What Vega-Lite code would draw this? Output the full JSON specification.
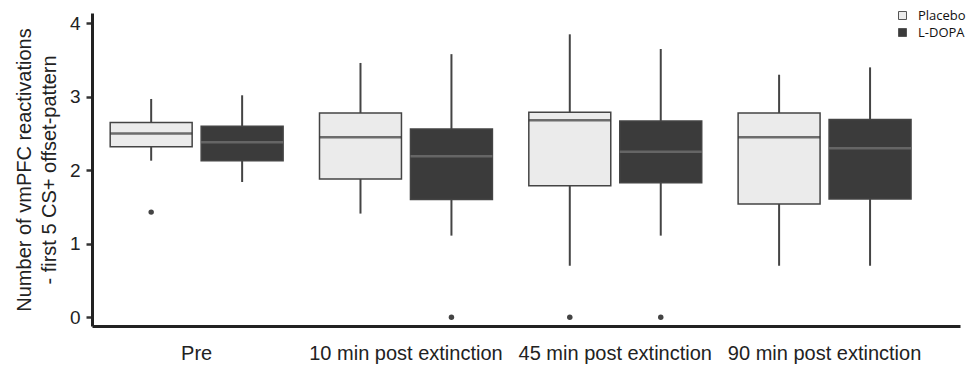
{
  "$schema": "https://vega.github.io/schema/vega-lite/v6.json",
  "width": 868,
  "height": 313,
  "autosize": {"type": "none"},
  "padding": {"left": 92, "top": 13, "right": 9, "bottom": 45},
  "background": "white",
  "config": {"view": {"stroke": null}, "font": "Liberation Sans"},
  "datasets": {
    "stats": [
      {"phase": "Pre", "cond": "Placebo", "lo": 2.13, "q1": 2.32, "med": 2.5, "q3": 2.65, "hi": 2.97},
      {"phase": "Pre", "cond": "L-DOPA", "lo": 1.84, "q1": 2.13, "med": 2.38, "q3": 2.6, "hi": 3.02},
      {"phase": "10 min post extinction", "cond": "Placebo", "lo": 1.41, "q1": 1.88, "med": 2.45, "q3": 2.78, "hi": 3.46},
      {"phase": "10 min post extinction", "cond": "L-DOPA", "lo": 1.11, "q1": 1.6, "med": 2.19, "q3": 2.56, "hi": 3.58},
      {"phase": "45 min post extinction", "cond": "Placebo", "lo": 0.7, "q1": 1.79, "med": 2.68, "q3": 2.79, "hi": 3.85},
      {"phase": "45 min post extinction", "cond": "L-DOPA", "lo": 1.11, "q1": 1.83, "med": 2.25, "q3": 2.67, "hi": 3.65},
      {"phase": "90 min post extinction", "cond": "Placebo", "lo": 0.7, "q1": 1.54, "med": 2.45, "q3": 2.78, "hi": 3.3},
      {"phase": "90 min post extinction", "cond": "L-DOPA", "lo": 0.7, "q1": 1.61, "med": 2.3, "q3": 2.69, "hi": 3.4}
    ],
    "out": [
      {"phase": "Pre", "cond": "Placebo", "v": 1.43},
      {"phase": "10 min post extinction", "cond": "L-DOPA", "v": 0},
      {"phase": "45 min post extinction", "cond": "Placebo", "v": 0},
      {"phase": "45 min post extinction", "cond": "L-DOPA", "v": 0}
    ]
  },
  "encoding": {
    "x": {
      "field": "phase",
      "type": "nominal",
      "sort": ["Pre", "10 min post extinction", "45 min post extinction", "90 min post extinction"],
      "scale": {"paddingInner": 0, "paddingOuter": 0.0735, "align": 0},
      "axis": {
        "title": null,
        "labelAngle": 0,
        "labelFontSize": 20,
        "labelColor": "#222",
        "labelPadding": 17,
        "labelLimit": 400,
        "labelOverlap": false,
        "ticks": false,
        "domainColor": "#222",
        "domainWidth": 3
      }
    },
    "xOffset": {
      "field": "cond",
      "type": "nominal",
      "sort": ["Placebo", "L-DOPA"],
      "scale": {"paddingInner": 0.099, "paddingOuter": 0.2}
    }
  },
  "layer": [
    {
      "data": {"name": "stats"},
      "mark": {"type": "rule", "color": "#444", "strokeWidth": 2},
      "encoding": {
        "y": {
          "field": "lo",
          "type": "quantitative",
          "scale": {"domain": [-0.12, 4.14], "nice": false, "zero": false},
          "axis": {
            "values": [0, 1, 2, 3, 4],
            "format": "d",
            "grid": false,
            "title": ["Number of vmPFC reactivations", "- first 5 CS+ offset-pattern"],
            "titleFontSize": 20,
            "titleFontWeight": "normal",
            "titleColor": "#222",
            "titleLineHeight": 25,
            "titlePadding": 10,
            "labelFontSize": 19,
            "labelColor": "#222",
            "labelPadding": 6,
            "tickSize": 6,
            "tickWidth": 2.5,
            "tickColor": "#333",
            "domainColor": "#222",
            "domainWidth": 3
          }
        },
        "y2": {"field": "hi"}
      }
    },
    {
      "data": {"name": "stats"},
      "mark": {"type": "bar", "stroke": "#444", "strokeWidth": 1.5},
      "encoding": {
        "y": {"field": "q1", "type": "quantitative"},
        "y2": {"field": "q3"},
        "fill": {
          "field": "cond",
          "type": "nominal",
          "scale": {"domain": ["Placebo", "L-DOPA"], "range": ["#ebebeb", "#3b3b3b"]},
          "legend": {
            "orient": "none",
            "legendX": 804,
            "legendY": -4,
            "title": null,
            "symbolType": "square",
            "symbolSize": 64,
            "symbolStrokeColor": "#555",
            "symbolStrokeWidth": 1,
            "labelFont": "Open Sans",
            "labelFontSize": 13,
            "labelColor": "#111",
            "labelOffset": 9,
            "rowPadding": 3
          }
        }
      }
    },
    {
      "data": {"name": "stats"},
      "mark": {"type": "tick", "size": 82, "thickness": 2.5},
      "encoding": {
        "y": {"field": "med", "type": "quantitative"},
        "color": {
          "condition": {"test": "datum.cond === 'Placebo'", "value": "#363636"},
          "value": "#777777"
        }
      }
    },
    {
      "data": {"name": "out"},
      "mark": {"type": "circle", "size": 30, "color": "#444", "opacity": 1},
      "encoding": {
        "y": {"field": "v", "type": "quantitative"}
      }
    }
  ]
}
